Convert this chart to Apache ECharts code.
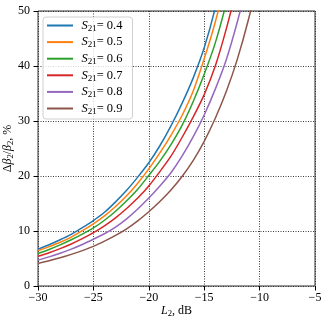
<!DOCTYPE html>
<html>
<head>
<meta charset="utf-8">
<script src="https://cdn.jsdelivr.net/npm/echarts@6/dist/echarts.min.js"></script>
<style>
  html, body { margin: 0; padding: 0; background: #fff; }
  #chart { width: 332px; height: 323px; }
</style>
</head>
<body>
<div id="chart"></div>
<script>
// L2, dB
const lossDb = [-30, -29, -28, -27, -26, -25, -24, -23, -22, -21, -20, -19, -18, -17, -16, -15, -14, -13, -12, -11, -10]
// delta beta2 / beta2, %
const s04 = [6.7, 7.5, 8.4, 9.4, 10.6, 11.9, 13.4, 15.3, 17.4, 19.8, 22.4, 25.5, 29.1, 33.2, 37.8, 43.3, 50.6, 60]
const s05 = [6.4, 7.15, 7.95, 8.9, 10.05, 11.3, 12.75, 14.45, 16.4, 18.7, 21.3, 24.2, 27.4, 31.0, 35.4, 41.3, 48.0, 56]
const s06 = [5.9, 6.64, 7.47, 8.4, 9.42, 10.55, 11.95, 13.6, 15.5, 17.6, 20.1, 22.7, 25.7, 29.2, 33.5, 38.5, 44.2, 51.5, 60]
const s07 = [5.4, 6.06, 6.8, 7.64, 8.6, 9.7, 10.95, 12.4, 14.1, 16.0, 18.2, 20.8, 23.6, 27.0, 30.7, 34.8, 40.0, 46.8, 54.7]
const s08 = [4.7, 5.29, 5.95, 6.7, 7.55, 8.5, 9.5, 10.7, 12.2, 14.0, 16.0, 18.2, 20.6, 23.6, 27.1, 31.1, 35.8, 41.2, 48.1, 56]
const s09 = [4.1, 4.59, 5.13, 5.75, 6.43, 7.2, 8.15, 9.2, 10.4, 11.85, 13.5, 15.35, 17.45, 19.9, 22.8, 26.3, 30.5, 35.4, 41.3, 48.5, 57]
const s21Names = ['0.4', '0.5', '0.6', '0.7', '0.8', '0.9']
const seriesValues = [s04, s05, s06, s07, s08, s09]
const colors = ['#1f77b4', '#ff7f0e', '#2ca02c', '#d62728', '#9467bd', '#8c564b']

const font = '"Liberation Serif", "DejaVu Serif", serif'
const minus = v => String(v).replace('-', '\u2212')

// rich styles: normal, italic, subscript
const richText = size => ({
  n: { fontFamily: font, fontSize: size, color: '#000', lineHeight: 15 },
  i: { fontFamily: font, fontStyle: 'italic', fontSize: size, color: '#000', lineHeight: 15 },
  s: { fontFamily: font, fontSize: size * 0.72, color: '#000', lineHeight: 6, verticalAlign: 'bottom' }
})

const chart = echarts.init(document.getElementById('chart'))
chart.setOption({
  animation: false,
  textStyle: { fontFamily: font },
  grid: {
    left: 38,
    right: 17,
    top: 11,
    bottom: 37,
    outerBoundsMode: 'none',
    containLabel: false,
    show: true,
    borderColor: '#333',
    borderWidth: 1
  },
  legend: {
    orient: 'vertical',
    left: 43,
    top: 17,
    padding: [2, 10, 3, 4],
    backgroundColor: 'rgba(255,255,255,0.8)',
    borderColor: '#d0d0d0',
    borderWidth: 1,
    borderRadius: 3,
    itemWidth: 26,
    itemHeight: 2,
    itemGap: 2.6,
    icon: 'rect',
    data: s21Names.map(n => 'S21 ' + n),
    formatter: name => '{i|S}{s|21}{n|= ' + name.split(' ')[1] + '}',
    textStyle: {
      padding: [0, 0, 0, 3.4],
      rich: richText(12.5)
    }
  },
  xAxis: {
    type: 'value',
    min: -30,
    max: -5,
    interval: 5,
    name: '{i|L}{s|2}{n|, dB}',
    nameLocation: 'middle',
    nameGap: 17,
    nameMoveOverlap: false,
    nameTextStyle: { rich: richText(12) },
    axisLine: { show: false },
    axisTick: { show: true, inside: false, length: 4.5, lineStyle: { color: '#000' } },
    axisLabel: { margin: 6, fontSize: 12, color: '#000', fontFamily: font, formatter: minus },
    splitLine: { show: true, lineStyle: { type: [1, 1.5], color: '#222', width: 0.9 } }
  },
  yAxis: {
    type: 'value',
    min: 0,
    max: 50,
    interval: 10,
    name: '{n|\u0394}{i|\u03b2}{s|2}{n|/}{i|\u03b2}{s|2}{n|, %}',
    nameLocation: 'middle',
    nameGap: 23,
    nameMoveOverlap: false,
    nameTextStyle: { rich: richText(12) },
    axisLine: { show: false },
    axisTick: { show: true, inside: false, length: 4.5, lineStyle: { color: '#000' } },
    axisLabel: { margin: 8, fontSize: 12, color: '#000', fontFamily: font },
    splitLine: { show: true, lineStyle: { type: [1, 1.5], color: '#222', width: 0.9 } }
  },
  series: seriesValues.map((vals, k) => ({
    name: 'S21 ' + s21Names[k],
    type: 'line',
    showSymbol: false,
    clip: true,
    smooth: 0.3,
    color: colors[k],
    lineStyle: { width: 1.5 },
    data: vals.map((v, i) => [lossDb[i], v])
  }))
})
</script>
</body>
</html>
